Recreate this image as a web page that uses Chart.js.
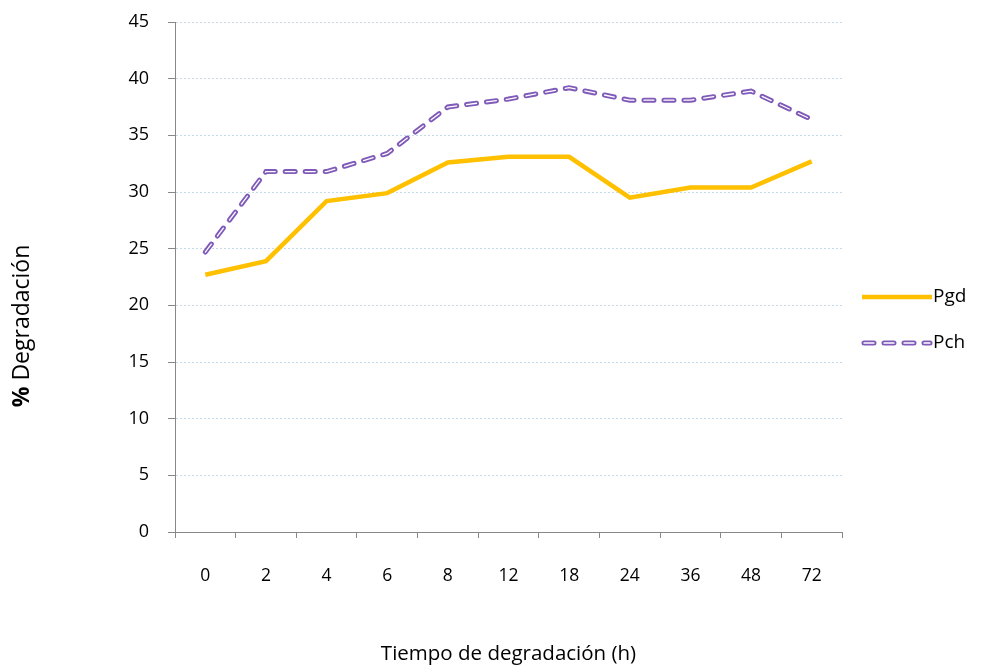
<!DOCTYPE html>
<html>
<head>
<meta charset="utf-8">
<script src="https://cdn.jsdelivr.net/npm/chart.js@4.4.1/dist/chart.umd.min.js"></script>
<style>
  html, body { margin: 0; padding: 0; background: #fff; }
  #wrap { width: 981px; height: 666px; }
</style>
</head>
<body>
<div id="wrap"><canvas id="grafico" width="981" height="666"></canvas></div>
<script>
const horas = ["0", "2", "4", "6", "8", "12", "18", "24", "36", "48", "72"];
const pgd = [22.7, 23.9, 29.2, 29.9, 32.6, 33.1, 33.1, 29.5, 30.4, 30.4, 32.7];
const pch = [24.7, 31.8, 31.8, 33.4, 37.5, 38.2, 39.2, 38.1, 38.1, 38.9, 36.4];
const ticksY = [0, 5, 10, 15, 20, 25, 30, 35, 40, 45];

const fuente = "'Open Sans', 'Noto Sans', sans-serif";

// leyenda y titulo del eje Y dibujados a mano
const extras = {
  id: "extras",
  afterDraw(chart) {
    const ctx = chart.ctx;
    ctx.save();
    // leyenda
    const items = [
      { y: 297, texto: "Pgd", ds: [0] },
      { y: 343, texto: "Pch", ds: [1, 2] }
    ];
    items.forEach(it => {
      it.ds.forEach(i => {
        const d = chart.data.datasets[i];
        ctx.beginPath();
        ctx.strokeStyle = d.borderColor;
        ctx.lineWidth = d.borderWidth;
        ctx.lineCap = d.borderCapStyle || "butt";
        ctx.setLineDash(d.borderDash || []);
        ctx.lineDashOffset = d.borderDashOffset || 0;
        ctx.moveTo(i === 0 ? 862 : 864, it.y);
        ctx.lineTo(i === 0 ? 932 : 930, it.y);
        ctx.stroke();
      });
      ctx.setLineDash([]);
      ctx.fillStyle = "#000";
      ctx.font = "19px " + fuente;
      ctx.textBaseline = "middle";
      ctx.textAlign = "left";
      ctx.fillText(it.texto, 933, it.y);
    });
    // titulo eje Y
    ctx.translate(22, 326);
    ctx.rotate(-Math.PI / 2);
    ctx.font = "bold 23px " + fuente;
    const w1 = ctx.measureText("% ").width;
    ctx.font = "23px " + fuente;
    const w2 = ctx.measureText("Degradación").width;
    let x = -(w1 + w2) / 2;
    ctx.textAlign = "left";
    ctx.textBaseline = "middle";
    ctx.font = "bold 23px " + fuente;
    ctx.fillText("% ", x, 0);
    ctx.font = "23px " + fuente;
    ctx.fillText("Degradación", x + w1, 0);
    ctx.restore();
  }
};

const ctx = document.getElementById("grafico").getContext("2d");
new Chart(ctx, {
  type: "line",
  data: {
    labels: horas,
    datasets: [
      {
        label: "Pgd",
        data: pgd,
        borderColor: "#FFC000",
        borderWidth: 4.5,
        pointRadius: 0,
        tension: 0,
        fill: false,
        order: 2
      },
      {
        label: "Pch",
        data: pch,
        borderColor: "#7F5AB8",
        borderWidth: 5,
        borderDash: [10, 10],
        borderCapStyle: "round",
        pointRadius: 0,
        tension: 0,
        fill: false,
        order: 1
      },
      {
        label: "Pch_interior",
        data: pch,
        borderColor: "#ffffff",
        borderWidth: 1.3,
        borderDash: [10, 10],
        borderCapStyle: "round",
        pointRadius: 0,
        tension: 0,
        fill: false,
        order: 0
      }
    ]
  },
  options: {
    responsive: false,
    animation: false,
    layout: { padding: { left: 0, right: 139, top: 22, bottom: 0 } },
    plugins: {
      legend: { display: false },
      tooltip: { enabled: false }
    },
    scales: {
      x: {
        offset: true,
        grid: { offset: true, drawOnChartArea: false, tickLength: 6, color: "#888", lineWidth: 1 },
        border: { color: "#888", width: 1 },
        ticks: { color: "#000", font: { family: fuente, size: 17.5 }, padding: 28 },
        title: {
          display: true,
          text: "Tiempo de degradación (h)",
          color: "#000",
          font: { family: fuente, size: 20.5 },
          padding: { top: 0, bottom: 0 }
        },
        afterFit(scale) { scale.height = 134; }
      },
      y: {
        min: 0,
        max: 45,
        afterBuildTicks(scale) { scale.ticks = ticksY.map(v => ({ value: v })); },
        grid: {
          color: "#c6dbea",
          lineWidth: 1,
          tickLength: 7,
          tickColor: "#888",
          tickBorderDash: []
        },
        border: { color: "#888", width: 1, dash: [2, 2] },
        ticks: { color: "#000", font: { family: fuente, size: 18 }, padding: 19 },
        afterFit(scale) {
          scale.width = 175;
          scale.paddingTop = 0;
          scale.paddingBottom = 0;
        }
      }
    }
  },
  plugins: [extras]
});
</script>
</body>
</html>
